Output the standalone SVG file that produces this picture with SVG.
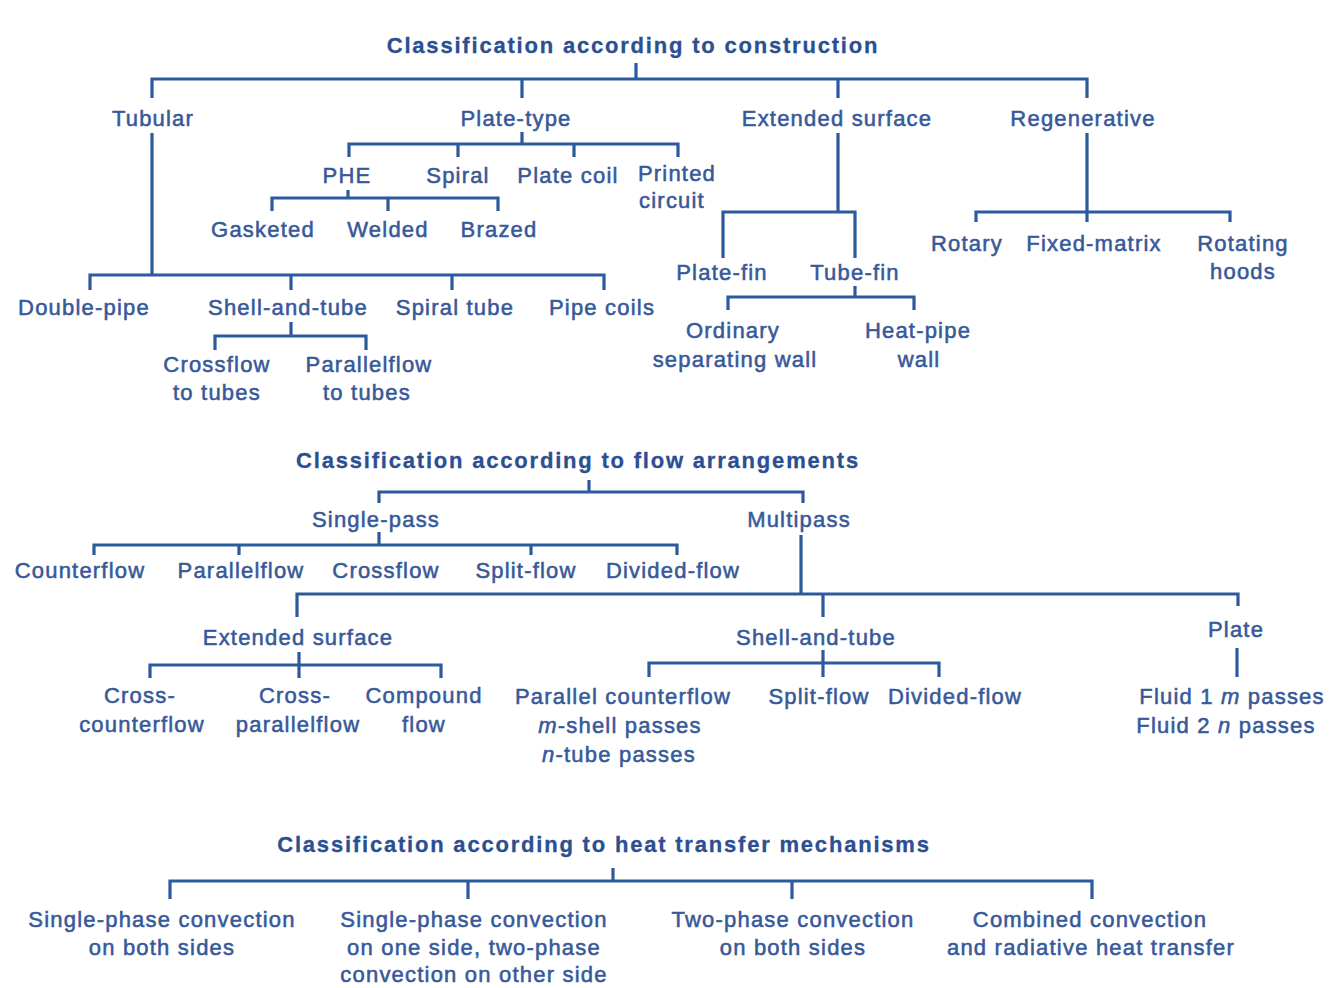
<svg xmlns="http://www.w3.org/2000/svg" width="1343" height="988" viewBox="0 0 1343 988">
<style>
text{font-family:"Liberation Sans",Arial,sans-serif;font-size:22px;fill:#37599a;stroke:#37599a;stroke-width:0.55px;letter-spacing:1.2px;text-anchor:middle}
text.t{font-weight:bold;fill:#2b4f91;stroke:#2b4f91;stroke-width:0.3px;letter-spacing:1.8px}
tspan.i{font-style:italic}
#connectors path{fill:none;stroke:#2c5a9e;stroke-width:3.2}
</style>
<rect width="1343" height="988" fill="#ffffff"/>
<g id="connectors">
<path d="M636 63V79M152 98V79H1087V98M522 79V98M838 79V98"/>
<path d="M152 133V275M90 290V275H604V290M291 275V290M452 275V290"/>
<path d="M291 322V336M215 350V336H366V350"/>
<path d="M522 132V144M349 157V144H678V157M458 144V157M574 144V157"/>
<path d="M348 190V198M272 211V198H498V211M388 198V211"/>
<path d="M838 133V212M723 258V212H855V258"/>
<path d="M855 286V297M728 310V297H914V310"/>
<path d="M1087 133V222M976 222V212H1230V222"/>
<path d="M589 480V492M379 503V492H803V503"/>
<path d="M379 532V545M94 555V545H677V555M239 545V555M531 545V555"/>
<path d="M801 535V594M297 617V594H1238V606M823 594V617"/>
<path d="M299 652V678M150 678V665H441V678"/>
<path d="M823 650V677M649 677V663H939V677"/>
<path d="M1237 648V677"/>
<path d="M613 868V881M170 899V881H1092V899M468 881V899M792 881V899"/>
</g>
<g id="title-construction"><text class="t" x="633" y="53">Classification according to construction</text></g>
<g id="tubular"><text x="153" y="126">Tubular</text></g>
<g id="plate-type"><text x="516" y="126">Plate-type</text></g>
<g id="extended-surface-1"><text x="837" y="126">Extended surface</text></g>
<g id="regenerative"><text x="1083" y="126">Regenerative</text></g>
<g id="phe"><text x="347" y="183">PHE</text></g>
<g id="spiral"><text x="458" y="183">Spiral</text></g>
<g id="plate-coil"><text x="568" y="183">Plate coil</text></g>
<g id="printed-circuit"><text x="677" y="181">Printed</text><text x="672" y="208">circuit</text></g>
<g id="gasketed"><text x="263" y="237">Gasketed</text></g>
<g id="welded"><text x="388" y="237">Welded</text></g>
<g id="brazed"><text x="499" y="237">Brazed</text></g>
<g id="plate-fin"><text x="722" y="280">Plate-fin</text></g>
<g id="tube-fin"><text x="855" y="280">Tube-fin</text></g>
<g id="ordinary"><text x="733" y="338">Ordinary</text><text x="735" y="367">separating wall</text></g>
<g id="heat-pipe"><text x="918" y="338">Heat-pipe</text><text x="919" y="367">wall</text></g>
<g id="rotary"><text x="967" y="251">Rotary</text></g>
<g id="fixed-matrix"><text x="1094" y="251">Fixed-matrix</text></g>
<g id="rotating-hoods"><text x="1243" y="251">Rotating</text><text x="1243" y="279">hoods</text></g>
<g id="double-pipe"><text x="84" y="315">Double-pipe</text></g>
<g id="shell-and-tube-1"><text x="288" y="315">Shell-and-tube</text></g>
<g id="spiral-tube"><text x="455" y="315">Spiral tube</text></g>
<g id="pipe-coils"><text x="602" y="315">Pipe coils</text></g>
<g id="crossflow-tubes"><text x="217" y="372">Crossflow</text><text x="217" y="400">to tubes</text></g>
<g id="parallelflow-tubes"><text x="369" y="372">Parallelflow</text><text x="367" y="400">to tubes</text></g>
<g id="title-flow"><text class="t" x="578" y="468">Classification according to flow arrangements</text></g>
<g id="single-pass"><text x="376" y="527">Single-pass</text></g>
<g id="multipass"><text x="799" y="527">Multipass</text></g>
<g id="counterflow"><text x="80" y="578">Counterflow</text></g>
<g id="parallelflow"><text x="241" y="578">Parallelflow</text></g>
<g id="crossflow"><text x="386" y="578">Crossflow</text></g>
<g id="split-flow-1"><text x="526" y="578">Split-flow</text></g>
<g id="divided-flow-1"><text x="673" y="578">Divided-flow</text></g>
<g id="extended-surface-2"><text x="298" y="645">Extended surface</text></g>
<g id="shell-and-tube-2"><text x="816" y="645">Shell-and-tube</text></g>
<g id="plate"><text x="1236" y="637">Plate</text></g>
<g id="cross-counterflow"><text x="140" y="703">Cross-</text><text x="142" y="732">counterflow</text></g>
<g id="cross-parallelflow"><text x="295" y="703">Cross-</text><text x="298" y="732">parallelflow</text></g>
<g id="compound-flow"><text x="424" y="703">Compound</text><text x="424" y="732">flow</text></g>
<g id="parallel-counterflow"><text x="623" y="704">Parallel counterflow</text><text x="620" y="733"><tspan class="i">m</tspan>-shell passes</text><text x="619" y="762"><tspan class="i">n</tspan>-tube passes</text></g>
<g id="split-flow-2"><text x="819" y="704">Split-flow</text></g>
<g id="divided-flow-2"><text x="955" y="704">Divided-flow</text></g>
<g id="fluid-passes"><text x="1232" y="704">Fluid 1 <tspan class="i">m</tspan> passes</text><text x="1226" y="733">Fluid 2 <tspan class="i">n</tspan> passes</text></g>
<g id="title-heat"><text class="t" x="604" y="852">Classification according to heat transfer mechanisms</text></g>
<g id="single-both"><text x="162" y="927">Single-phase convection</text><text x="162" y="955">on both sides</text></g>
<g id="single-two"><text x="474" y="927">Single-phase convection</text><text x="474" y="955">on one side, two-phase</text><text x="474" y="982">convection on other side</text></g>
<g id="two-phase"><text x="793" y="927">Two-phase convection</text><text x="793" y="955">on both sides</text></g>
<g id="combined"><text x="1090" y="927">Combined convection</text><text x="1091" y="955">and radiative heat transfer</text></g>
</svg>
